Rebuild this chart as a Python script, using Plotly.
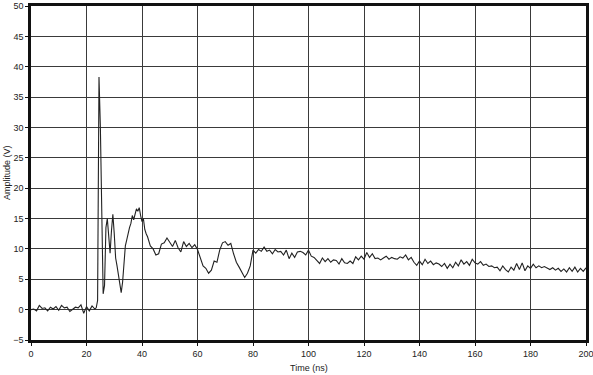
import plotly.graph_objects as go

# Time (ns) and amplitude (V)
t_pre = [0, 1, 2, 3, 4, 5, 6, 7, 8, 9, 10, 11, 12, 13, 14, 15, 16, 17, 18, 19, 20, 21, 22, 23]
v_pre = [0.0, 0.1, -0.2, 0.7, 0.2, 0.3, -0.2, 0.4, 0.1, 0.5, -0.1, 0.7, 0.3, 0.4, -0.3, 0.1,
         0.4, 0.3, 0.8, -0.6, 0.5, -0.2, 0.6, 0.1]

t_burst = [23.5, 24.0, 24.5, 25.0, 25.5, 26.0, 26.5, 27.0, 27.5, 28.0, 28.5, 29.0, 29.5, 30.0,
           30.5, 31.0, 31.5, 32.0, 32.5, 33.0, 33.5, 34.0, 34.5, 35.0, 35.5, 36.0, 36.5, 37.0,
           37.5, 38.0, 38.5, 39.0, 39.5, 40.0, 40.5, 41.0, 41.5, 42.0]
v_burst = [0.3, 1.5, 38.3, 30.0, 12.0, 2.6, 4.0, 13.5, 15.0, 12.0, 9.3, 13.0, 15.7, 12.5,
           8.5, 7.2, 5.5, 3.8, 2.8, 4.5, 7.5, 10.5, 11.5, 12.8, 13.5, 14.2, 15.5, 14.8,
           16.0, 16.6, 16.2, 16.8, 15.5, 14.5, 15.0, 13.2, 12.5, 12.0]

t_tail = list(range(43, 201))
v_tail = [10.5, 10.0, 9.0, 9.2, 10.8, 11.0, 11.8, 11.2, 10.4, 11.4, 10.2, 9.5, 11.2, 10.4, 10.9,
          10.2, 10.7, 9.9, 8.5, 7.2, 6.8, 6.0, 6.5, 8.0, 7.8, 9.8, 11.0, 11.2, 10.6, 10.9,
          9.2, 7.8, 7.0, 6.2, 5.3, 6.0, 7.2, 9.8, 9.3, 9.9, 9.6, 10.3, 9.6, 9.8, 9.2,
          9.9, 9.5, 9.6, 9.0, 9.8, 8.4, 9.3, 8.6, 9.5, 9.6, 9.4, 9.0, 9.8, 8.8, 8.6,
          8.0, 7.6, 8.5, 7.9, 8.4, 7.8, 8.2, 8.1, 7.5, 8.4, 7.7, 7.6, 8.0, 7.6, 8.7,
          8.2, 8.8, 8.3, 9.4, 8.6, 9.2, 8.4, 8.5, 8.2, 8.5, 8.8, 8.3, 8.6, 8.4, 8.3,
          8.7, 8.5, 9.0, 8.2, 8.6, 7.8, 7.3, 8.0, 7.4, 8.3, 7.6, 8.0, 7.4, 7.7, 7.5,
          7.1, 7.6, 6.8, 7.5, 6.9, 7.8, 7.2, 8.2, 7.5, 7.9, 7.3, 8.3, 7.7, 7.5, 7.9,
          7.3, 7.5, 7.1, 7.2, 6.9, 7.0, 6.4, 7.2, 6.6, 6.2, 7.0, 6.5, 7.6, 6.6, 7.7,
          6.4, 7.2, 6.8, 7.5, 6.9, 7.2, 6.9, 7.1, 6.8, 6.6, 6.9, 6.5, 6.8, 6.3, 6.7,
          6.2, 6.9, 6.3, 7.0, 6.2, 6.8, 6.3, 6.9]

time_ns = t_pre + t_burst + t_tail
amplitude_v = v_pre + v_burst + v_tail

x_ticks = [0, 20, 40, 60, 80, 100, 120, 140, 160, 180, 200]
y_ticks = [-5, 0, 5, 10, 15, 20, 25, 30, 35, 40, 45, 50]

FONT = "Liberation Sans, Arial, sans-serif"

fig = go.Figure()
fig.add_trace(go.Scatter(x=time_ns, y=amplitude_v, mode="lines",
                         line=dict(color="#222222", width=1.1), showlegend=False))

axis_common = dict(showgrid=True, gridcolor="#3a3a3a", gridwidth=1,
                   showline=True, linecolor="#111111", linewidth=2.5, mirror=True,
                   zeroline=False, ticks="outside", ticklen=3, tickcolor="#111111",
                   automargin=False, ticklabeloverflow="allow",
                   tickfont=dict(family=FONT, size=9, color="#222222"))

fig.update_layout(
    width=593, height=375,
    margin=dict(l=31, r=7, t=6, b=35),
    paper_bgcolor="white", plot_bgcolor="white",
    xaxis=dict(range=[0, 200], tickvals=x_ticks, **axis_common),
    yaxis=dict(range=[-5, 50], tickvals=y_ticks, **axis_common),
    annotations=[
        dict(text="Time (ns)", xref="paper", yref="paper", x=0.5, y=0, yshift=-28,
             xanchor="center", yanchor="middle", showarrow=False,
             font=dict(family=FONT, size=9, color="#222222")),
        dict(text="Amplitude (V)", xref="paper", yref="paper", x=0, y=0.5, xshift=-24,
             xanchor="center", yanchor="middle", textangle=-90, showarrow=False,
             font=dict(family=FONT, size=9, color="#222222")),
    ],
)

fig.write_html("out.html")
